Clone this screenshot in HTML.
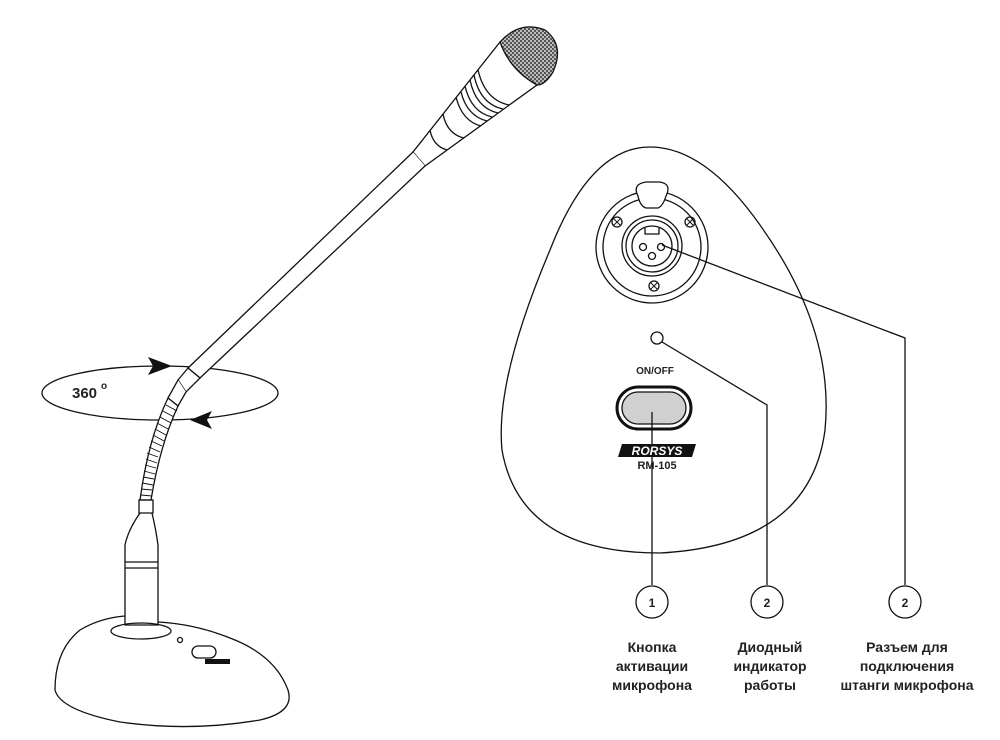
<!DOCTYPE html>
<html><head><meta charset="utf-8"><style>
body{margin:0;background:#fff}
svg{display:block}
text{font-family:"Liberation Sans",sans-serif;font-weight:bold;fill:#222}
</style></head><body>
<svg width="1000" height="740" viewBox="0 0 1000 740">
<defs>
<pattern id="mesh" width="4" height="4" patternUnits="userSpaceOnUse"><rect width="4" height="4" fill="#bbb"/><rect width="2" height="2" fill="#555"/><rect x="2" y="2" width="2" height="2" fill="#555"/></pattern>
</defs>
<g fill="none" stroke="#111" stroke-width="1.3">
<ellipse cx="160" cy="393" rx="118" ry="27"/>
<!-- mic head -->
<path d="M500,42 L413,152 L425,166 L537,85 Z" fill="#fff"/>
<path d="M500,42 Q520,20 545,30 Q565,45 553,72 Q545,85 537,85 Q510,70 500,42 Z" fill="url(#mesh)"/>
<path d="M478,70 Q485,100 509,105 M474,75 Q480,104 503,109 M470,80 Q476,108 498,113 M465,86 Q471,112 492,117 M461,92 Q467,116 487,121 M456,97 Q462,121 481,126"/>
<path d="M443,114 Q447,134 464,138 M430,130 Q433,146 447,150"/>
<!-- rod -->
<path d="M413,152 L188,368 L200,378 L425,166" fill="#fff"/>
<!-- connector -->
<path d="M188,368 L178,380 L186,392 L200,378 Z" fill="#fff"/>
<path d="M178,380 L168,398 L178,406 L186,392" fill="#fff"/>
<!-- gooseneck -->
<path d="M168,398 Q148,440 140,500 L151,500 Q160,445 178,406 Z" fill="#fff"/>
<g stroke-width="0.9">
<path d="M166,405 l11,6 M163,411 l11,6 M160,417 l11,6 M157,423 l11,6 M155,429 l11,6 M153,435 l11,6 M151,441 l11,5 M149,447 l11,5 M147,453 l11,4 M146,459 l11,4 M145,465 l11,3 M144,471 l11,3 M143,477 l11,2 M142,483 l11,2 M141,489 l11,1 M141,495 l11,1"/>
</g>
<path d="M139,500 h14 v13 h-14 z"/>
<!-- tube -->
<path d="M140,513 Q128,530 125,545 V625 H158 V545 Q156,530 152,513"/>
<path d="M125,562 H158 M125,568 H158"/>
<!-- base -->
<path d="M125,616 Q100,618 80,630 Q55,650 55,690 Q60,710 120,722 Q190,732 260,720 Q295,712 288,690 Q275,655 230,638 Q195,624 158,622"/>
<ellipse cx="141" cy="631" rx="30" ry="8"/>
<circle cx="180" cy="640" r="2.5"/>
<rect x="192" y="646" width="24" height="12" rx="6"/>
</g>
<rect x="205" y="659" width="25" height="5" fill="#111"/>
<polygon points="172,366 148,357 153,366 148,375" fill="#111"/>
<polygon points="190,420 212,411 207,420 212,429" fill="#111"/>
<text x="72" y="398" font-size="15">360</text><text x="101" y="389" font-size="10">o</text>

<!-- right panel -->
<g fill="none" stroke="#111" stroke-width="1.3">
<path d="M650,147 Q705,147 760,225 Q835,330 825,430 Q810,545 660,553 Q520,553 502,450 Q495,380 550,250 Q590,147 650,147 Z"/>
<circle cx="652" cy="247" r="56"/>
<circle cx="652" cy="247" r="49"/>
<path d="M638,196 Q632,184 646,182 H660 Q672,184 666,196 Q663,206 658,208 H646 Q640,206 638,196 Z" fill="#fff"/>
<circle cx="652" cy="246" r="30"/>
<circle cx="652" cy="246" r="26"/>
<circle cx="652" cy="246" r="20"/>
<path d="M645,228 v6 h14 v-6"/>
<circle cx="643" cy="247" r="3.5"/><circle cx="661" cy="247" r="3.5"/><circle cx="652" cy="256" r="3.5"/>
<circle cx="617" cy="222" r="5"/><circle cx="690" cy="222" r="5"/><circle cx="654" cy="286" r="5"/>
<path d="M614,219 l6,6 M620,219 l-6,6 M687,219 l6,6 M693,219 l-6,6 M651,283 l6,6 M657,283 l-6,6" stroke-width="1"/>
<circle cx="657" cy="338" r="6"/>
<rect x="617" y="387" width="74" height="42" rx="21" stroke-width="3"/>
<rect x="622" y="392" width="64" height="32" rx="16" fill="#d0d0d0"/>
<path d="M662,245 L905,338 V585"/>
<path d="M662,342 L767,405 V585"/>
<path d="M652,412 V585"/>
<circle cx="652" cy="602" r="16"/>
<circle cx="767" cy="602" r="16"/>
<circle cx="905" cy="602" r="16"/>
</g>
<text x="655" y="374" font-size="10" text-anchor="middle">ON/OFF</text>
<polygon points="622,444 696,444 692,457 618,457" fill="#111"/>
<text x="657" y="455" font-size="12" text-anchor="middle" font-style="italic" style="fill:#fff">RORSYS</text>
<text x="657" y="469" font-size="11" text-anchor="middle">RM-105</text>
<text x="652" y="607" font-size="12" text-anchor="middle">1</text>
<text x="767" y="607" font-size="12" text-anchor="middle">2</text>
<text x="905" y="607" font-size="12" text-anchor="middle">2</text>
<g font-size="14" text-anchor="middle">
<text x="652" y="652">Кнопка</text><text x="652" y="671">активации</text><text x="652" y="690">микрофона</text>
<text x="770" y="652">Диодный</text><text x="770" y="671">индикатор</text><text x="770" y="690">работы</text>
<text x="907" y="652">Разъем для</text><text x="907" y="671">подключения</text><text x="907" y="690">штанги микрофона</text>
</g>
</svg>
</body></html>
